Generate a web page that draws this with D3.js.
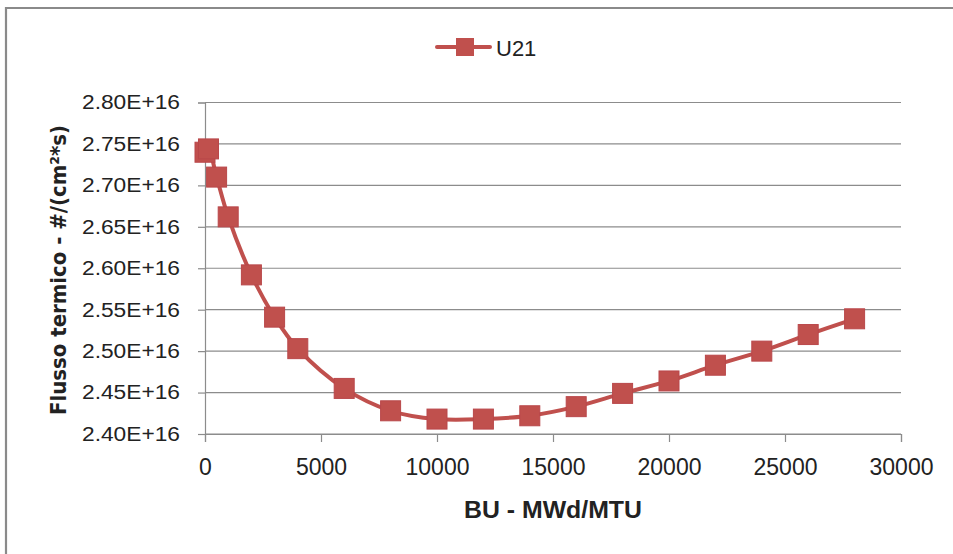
<!DOCTYPE html>
<html>
<head>
<meta charset="utf-8">
<script src="https://cdn.jsdelivr.net/npm/d3@7"></script>
<style>
  html, body { margin: 0; padding: 0; background: #fff; }
  svg { display: block; }
</style>
</head>
<body>
<svg id="chart" width="953" height="554"></svg>
<script>
// Burnup (MWd/MTU) and thermal flux (#/(cm²·s)) for fuel U21
const seriesName = "U21";
const burnup = [0, 150, 500, 1000, 2000, 3000, 4000, 6000, 8000, 10000, 12000, 14000, 16000, 18000, 20000, 22000, 24000, 26000, 28000];
const flux = [2.740e16, 2.744e16, 2.710e16, 2.662e16, 2.592e16, 2.541e16, 2.503e16, 2.455e16, 2.428e16, 2.418e16, 2.418e16, 2.422e16, 2.433e16, 2.449e16, 2.464e16, 2.483e16, 2.500e16, 2.520e16, 2.539e16];
const xTicks = [0, 5000, 10000, 15000, 20000, 25000, 30000];
const yTicks = [2.40e16, 2.45e16, 2.50e16, 2.55e16, 2.60e16, 2.65e16, 2.70e16, 2.75e16, 2.80e16];
const xTitle = "BU - MWd/MTU";
const yTitle = "Flusso termico - #/(cm²*s)";

const color = "#c0504d";
const gridColor = "#8c8c8c";
const textColor = "#222";

const svg = d3.select("#chart");
const plot = { left: 205, right: 901, top: 102.5, bottom: 434 };

// frame around the chart area
svg.append("path")
  .attr("d", "M6,554 L6,8 L953,8")
  .attr("fill", "none")
  .attr("stroke", "#8a8a8a")
  .attr("stroke-width", 2.2);

const x = d3.scaleLinear().domain([0, 30000]).range([plot.left, plot.right]);
const y = d3.scaleLinear().domain([2.40e16, 2.80e16]).range([plot.bottom, plot.top]);

// horizontal gridlines
svg.append("g")
  .selectAll("line")
  .data(yTicks)
  .join("line")
  .attr("x1", plot.left).attr("x2", plot.right)
  .attr("y1", d => y(d)).attr("y2", d => y(d))
  .attr("stroke", gridColor)
  .attr("stroke-width", 1.2);

// y axis
const yAxis = svg.append("g")
  .attr("transform", `translate(${plot.left},0)`)
  .call(d3.axisLeft(y).tickValues(yTicks).tickSize(7).tickPadding(18)
    .tickFormat(d => (d / 1e16).toFixed(2) + "E+16"));
yAxis.select(".domain").attr("stroke", gridColor).attr("stroke-width", 1.2);
yAxis.selectAll(".tick line").attr("stroke", gridColor).attr("stroke-width", 1.2);
yAxis.selectAll(".tick text")
  .attr("fill", textColor)
  .style("font-family", "'Liberation Sans', Arial, sans-serif")
  .style("font-size", "20px")
  .attr("textLength", 98)
  .attr("lengthAdjust", "spacingAndGlyphs");

// x axis
const xAxis = svg.append("g")
  .attr("transform", `translate(0,${plot.bottom})`)
  .call(d3.axisBottom(x).tickValues(xTicks).tickSize(8).tickPadding(10)
    .tickFormat(d3.format("d")));
xAxis.select(".domain").attr("stroke", gridColor).attr("stroke-width", 1.2);
xAxis.selectAll(".tick line").attr("stroke", gridColor).attr("stroke-width", 1.2);
xAxis.selectAll(".tick text")
  .attr("fill", textColor)
  .attr("dy", "1em")
  .style("font-family", "'Liberation Sans', Arial, sans-serif")
  .style("font-size", "23px");

// smoothed series line
const line = d3.line()
  .x((d, i) => x(burnup[i]))
  .y(d => y(d))
  .curve(d3.curveCatmullRom.alpha(0.5));

svg.append("path")
  .datum(flux)
  .attr("d", line)
  .attr("fill", "none")
  .attr("stroke", color)
  .attr("stroke-width", 4)
  .attr("stroke-linejoin", "round");

// square markers
const m = 20;
svg.append("g")
  .selectAll("rect")
  .data(flux)
  .join("rect")
  .attr("x", (d, i) => x(burnup[i]) - m / 2)
  .attr("y", d => y(d) - m / 2)
  .attr("width", m).attr("height", m)
  .attr("fill", color)
  .attr("stroke", "#b9474a")
  .attr("stroke-width", 1);

// legend
const lg = svg.append("g");
lg.append("line")
  .attr("x1", 437).attr("x2", 490)
  .attr("y1", 47).attr("y2", 47)
  .attr("stroke", color).attr("stroke-width", 4).attr("stroke-linecap", "round");
lg.append("rect")
  .attr("x", 465 - 9).attr("y", 47 - 9)
  .attr("width", 18).attr("height", 18)
  .attr("fill", color);
lg.append("text")
  .attr("x", 496).attr("y", 55.5)
  .attr("fill", textColor)
  .style("font-family", "'Liberation Sans', Arial, sans-serif")
  .style("font-size", "22px")
  .text(seriesName);

// axis titles
svg.append("text")
  .attr("x", (plot.left + plot.right) / 2)
  .attr("y", 518)
  .attr("text-anchor", "middle")
  .attr("fill", textColor)
  .style("font-family", "'Liberation Sans', Arial, sans-serif")
  .style("font-weight", "bold")
  .style("font-size", "23px")
  .attr("textLength", 178)
  .attr("lengthAdjust", "spacingAndGlyphs")
  .text(xTitle);

svg.append("text")
  .attr("transform", "translate(66,270) rotate(-90)")
  .attr("text-anchor", "middle")
  .attr("fill", textColor)
  .style("font-family", "'DejaVu Sans', sans-serif")
  .style("font-weight", "bold")
  .style("font-size", "22px")
  .attr("textLength", 290)
  .attr("lengthAdjust", "spacingAndGlyphs")
  .text(yTitle);
</script>
</body>
</html>
